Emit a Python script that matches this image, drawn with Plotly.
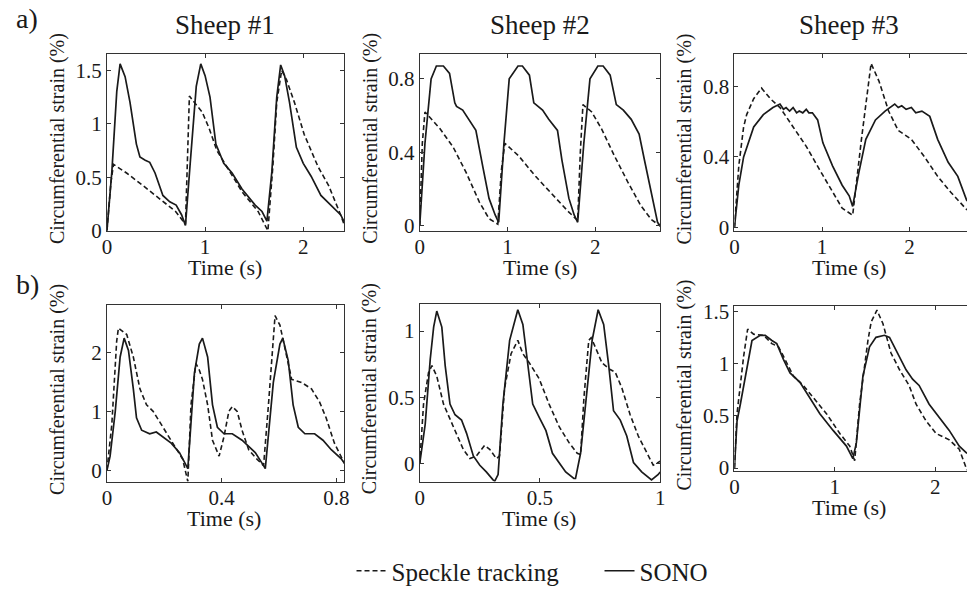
import plotly.graph_objects as go

# ---------------- data ----------------
a1_t_sono = [0, 0.05, 0.10, 0.134, 0.185, 0.235, 0.30, 0.336, 0.39, 0.436, 0.49, 0.57, 0.64, 0.705, 0.76, 0.80,
             0.85, 0.91, 0.956, 1.0, 1.05, 1.11, 1.19, 1.275, 1.376, 1.51, 1.58, 1.63,
             1.68, 1.73, 1.77, 1.81, 1.86, 1.93, 2.0, 2.08, 2.18, 2.28, 2.38, 2.42]
a1_sono = [0, 0.55, 1.30, 1.56, 1.44, 1.20, 0.81, 0.69, 0.66, 0.64, 0.54, 0.33, 0.27, 0.24, 0.15, 0.05,
           0.65, 1.35, 1.56, 1.45, 1.25, 0.81, 0.63, 0.54, 0.39, 0.24, 0.18, 0.09,
           0.55, 1.25, 1.55, 1.45, 1.20, 0.78, 0.63, 0.51, 0.33, 0.24, 0.15, 0.08]
a1_t_speckle = [0, 0.04, 0.067, 0.2, 0.37, 0.54, 0.70, 0.80, 0.84, 0.89, 0.97, 1.04, 1.12, 1.24, 1.38, 1.54, 1.64,
                1.69, 1.73, 1.78, 1.83, 1.91, 2.01, 2.15, 2.26, 2.38, 2.42]
a1_speckle = [0, 0.45, 0.62, 0.54, 0.42, 0.30, 0.18, 0.06, 1.26, 1.20, 1.11, 0.96, 0.75, 0.57, 0.36, 0.18, 0.0,
              0.6, 1.2, 1.5, 1.41, 1.20, 0.90, 0.60, 0.42, 0.15, 0.05]

a2_t_sono = [0, 0.06, 0.13, 0.19, 0.27, 0.34, 0.40, 0.42, 0.49, 0.57, 0.64, 0.72, 0.79, 0.86, 0.90,
             0.96, 1.02, 1.12, 1.17, 1.25, 1.30, 1.40, 1.47, 1.57, 1.62, 1.70, 1.76, 1.80,
             1.87, 1.94, 2.03, 2.09, 2.17, 2.24, 2.32, 2.41, 2.50, 2.56, 2.64, 2.71, 2.74]
a2_sono = [0, 0.45, 0.80, 0.87, 0.87, 0.83, 0.67, 0.65, 0.63, 0.57, 0.52, 0.32, 0.15, 0.06, 0.02,
           0.45, 0.80, 0.87, 0.87, 0.82, 0.67, 0.63, 0.58, 0.52, 0.36, 0.15, 0.06, 0.02,
           0.45, 0.80, 0.87, 0.87, 0.82, 0.66, 0.63, 0.58, 0.50, 0.36, 0.17, 0.02, 0.0]
a2_t_speckle = [0, 0.03, 0.06, 0.10, 0.23, 0.38, 0.53, 0.68, 0.79, 0.89, 0.93, 0.97, 1.13, 1.32, 1.51, 1.69, 1.80,
                1.83, 1.86, 1.96, 2.07, 2.22, 2.37, 2.52, 2.64, 2.71, 2.74]
a2_speckle = [0, 0.45, 0.62, 0.60, 0.53, 0.43, 0.29, 0.13, 0.04, 0.01, 0.30, 0.45, 0.38, 0.27, 0.17, 0.08, 0.03,
              0.40, 0.66, 0.62, 0.53, 0.38, 0.24, 0.11, 0.035, 0.01, 0.0]

a3_t_sono = [0, 0.05, 0.105, 0.22, 0.33, 0.44, 0.52, 0.56, 0.59, 0.63, 0.67, 0.71, 0.74, 0.78, 0.82, 0.85, 0.89,
             0.95, 1.01, 1.12, 1.23, 1.31, 1.35, 1.42, 1.50, 1.61, 1.72, 1.83, 1.87, 1.91, 1.96, 2.02, 2.07,
             2.14, 2.23, 2.32, 2.44, 2.55, 2.655]
a3_sono = [0, 0.24, 0.40, 0.57, 0.64, 0.68, 0.70, 0.67, 0.68, 0.66, 0.68, 0.65, 0.66, 0.65, 0.67, 0.65, 0.65,
           0.61, 0.48, 0.35, 0.24, 0.18, 0.12, 0.31, 0.50, 0.61, 0.66, 0.70, 0.68, 0.69, 0.67, 0.68, 0.65,
           0.66, 0.63, 0.50, 0.37, 0.29, 0.15]
a3_t_speckle = [0, 0.05, 0.105, 0.14, 0.22, 0.31, 0.41, 0.52, 0.67, 0.82, 0.97, 1.12, 1.23, 1.35, 1.45, 1.56,
                1.65, 1.76, 1.87, 2.02, 2.17, 2.32, 2.47, 2.655]
a3_speckle = [0, 0.35, 0.57, 0.64, 0.73, 0.79, 0.73, 0.68, 0.57, 0.46, 0.33, 0.20, 0.11, 0.07, 0.50, 0.93,
              0.83, 0.66, 0.55, 0.50, 0.40, 0.29, 0.20, 0.10]

b1_t_sono = [0, 0.011, 0.029, 0.046, 0.06, 0.075, 0.092, 0.103, 0.121, 0.149, 0.172, 0.195, 0.224, 0.253, 0.276,
             0.282, 0.305, 0.322, 0.333, 0.351, 0.368, 0.385, 0.408, 0.437, 0.471, 0.517, 0.546, 0.552, 0.58,
             0.603, 0.613, 0.632, 0.649, 0.667, 0.69, 0.724, 0.753, 0.782, 0.816, 0.828]
b1_sono = [0, 0.24, 1.0, 1.92, 2.24, 2.03, 1.38, 0.89, 0.68, 0.62, 0.65, 0.57, 0.46, 0.30, 0.08,
           0.03, 1.65, 2.14, 2.24, 1.92, 1.11, 0.73, 0.62, 0.62, 0.51, 0.30, 0.08, 0.03, 1.49,
           2.14, 2.24, 1.86, 1.11, 0.73, 0.62, 0.62, 0.51, 0.35, 0.20, 0.12]
b1_t_speckle = [0, 0.017, 0.034, 0.04, 0.069, 0.092, 0.115, 0.138, 0.161, 0.195, 0.23, 0.264, 0.282, 0.293,
                0.31, 0.322, 0.333, 0.351, 0.368, 0.391, 0.408, 0.425, 0.437, 0.454, 0.471, 0.494, 0.523,
                0.546, 0.563, 0.58, 0.586, 0.603, 0.621, 0.644, 0.678, 0.713, 0.741, 0.764, 0.793, 0.816, 0.828]
b1_speckle = [0, 0.78, 2.19, 2.41, 2.30, 1.92, 1.38, 1.11, 1.0, 0.73, 0.46, 0.19, -0.19, 1.11,
              1.81, 1.70, 1.54, 1.11, 0.51, 0.24, 0.57, 1.0, 1.08, 1.0, 0.68, 0.35, 0.19,
              0.08, 1.11, 2.30, 2.62, 2.46, 2.03, 1.54, 1.49, 1.38, 1.16, 0.89, 0.46, 0.24, 0.12]

b2_t_sono = [0, 0.023, 0.044, 0.058, 0.071, 0.092, 0.106, 0.126, 0.147, 0.174, 0.195, 0.223, 0.25, 0.277, 0.305,
             0.312, 0.326, 0.346, 0.374, 0.408, 0.429, 0.449, 0.47, 0.497, 0.525, 0.552, 0.58, 0.607, 0.641,
             0.648, 0.669, 0.69, 0.717, 0.742, 0.765, 0.786, 0.806, 0.834, 0.861, 0.889, 0.923, 0.964, 0.992, 1.0]
b2_sono = [0, 0.30, 0.79, 1.03, 1.15, 1.03, 0.74, 0.45, 0.37, 0.33, 0.23, 0.06, -0.01, -0.06, -0.12,
           -0.13, -0.08, 0.45, 0.93, 1.16, 1.05, 0.74, 0.45, 0.35, 0.25, 0.08, 0.01, -0.06, -0.11,
           -0.11, 0.08, 0.45, 0.93, 1.16, 1.05, 0.74, 0.40, 0.33, 0.21, 0.01, -0.06, -0.12, -0.08, -0.06]
b2_t_speckle = [0, 0.016, 0.037, 0.051, 0.071, 0.099, 0.14, 0.181, 0.209, 0.236, 0.27, 0.291, 0.319, 0.332,
                0.353, 0.38, 0.408, 0.429, 0.456, 0.497, 0.538, 0.58, 0.621, 0.655, 0.669, 0.683, 0.703,
                0.713, 0.73, 0.758, 0.792, 0.813, 0.841, 0.875, 0.909, 0.944, 0.971, 1.0]
b2_speckle = [0, 0.45, 0.69, 0.74, 0.66, 0.45, 0.28, 0.11, 0.04, 0.06, 0.14, 0.11, 0.04, 0.06,
              0.57, 0.83, 0.93, 0.83, 0.76, 0.64, 0.45, 0.28, 0.16, 0.08, 0.07, 0.50, 0.93,
              0.95, 0.88, 0.76, 0.71, 0.69, 0.57, 0.37, 0.21, 0.08, -0.01, 0.02]

b3_t_sono = [0, 0.026, 0.059, 0.125, 0.175, 0.257, 0.307, 0.373, 0.422, 0.488, 0.554, 0.653, 0.752, 0.851, 0.983,
             1.116, 1.18, 1.215, 1.28, 1.346, 1.41, 1.495, 1.545, 1.61, 1.71, 1.775, 1.84, 1.94, 2.04, 2.14,
             2.24, 2.317]
b3_sono = [0, 0.45, 0.61, 0.98, 1.22, 1.27, 1.27, 1.22, 1.19, 1.04, 0.91, 0.82, 0.67, 0.52, 0.36,
           0.21, 0.09, 0.24, 0.88, 1.16, 1.25, 1.27, 1.25, 1.13, 0.94, 0.85, 0.79, 0.61, 0.48, 0.36,
           0.21, 0.14]
b3_t_speckle = [0, 0.026, 0.092, 0.132, 0.191, 0.29, 0.373, 0.439, 0.488, 0.587, 0.686, 0.785, 0.917, 1.05,
                1.149, 1.198, 1.247, 1.33, 1.363, 1.42, 1.48, 1.56, 1.645, 1.74, 1.81, 1.91, 2.01, 2.14,
                2.24, 2.317]
b3_speckle = [0, 0.52, 1.07, 1.33, 1.28, 1.27, 1.19, 1.16, 1.07, 0.88, 0.79, 0.67, 0.52, 0.33,
              0.21, 0.07, 0.61, 1.22, 1.40, 1.51, 1.38, 1.10, 0.94, 0.79, 0.61, 0.45, 0.33, 0.27,
              0.18, -0.02]

sheep_titles = ["Sheep #1", "Sheep #2", "Sheep #3"]
row_labels = ["a)", "b)"]
series_names = ["Speckle tracking", "SONO"]

x_ticks = {"a1": [0, 1, 2], "a2": [0, 1, 2], "a3": [0, 1, 2],
           "b1": [0, 0.4, 0.8], "b2": [0, 0.5, 1], "b3": [0, 1, 2]}
y_ticks = {"a1": [0, 0.5, 1, 1.5], "a2": [0, 0.4, 0.8], "a3": [0, 0.4, 0.8],
           "b1": [0, 1, 2], "b2": [0, 0.5, 1], "b3": [0, 0.5, 1, 1.5]}
x_ranges = {"a1": [0, 2.42], "a2": [0, 2.74], "a3": [0, 2.655],
            "b1": [0, 0.828], "b2": [0, 1.0], "b3": [0, 2.317]}
y_ranges = {"a1": [0, 1.65], "a2": [-0.026, 0.934], "a3": [-0.018, 0.982],
            "b1": [-0.19, 2.8], "b2": [-0.133, 1.203], "b3": [-0.028, 1.55]}

panels = {
    "a1": (a1_t_speckle, a1_speckle, a1_t_sono, a1_sono),
    "a2": (a2_t_speckle, a2_speckle, a2_t_sono, a2_sono),
    "a3": (a3_t_speckle, a3_speckle, a3_t_sono, a3_sono),
    "b1": (b1_t_speckle, b1_speckle, b1_t_sono, b1_sono),
    "b2": (b2_t_speckle, b2_speckle, b2_t_sono, b2_sono),
    "b3": (b3_t_speckle, b3_speckle, b3_t_sono, b3_sono),
}

# ---------------- layout (pixel boxes) ----------------
W, H = 972, 594
boxes = {  # left, right, top, bottom (px)
    "a1": (103, 343, 50, 233), "a2": (419, 662, 50, 233), "a3": (737, 972, 50, 233),
    "b1": (103, 343, 310, 493), "b2": (419, 662, 309, 493), "b3": (737, 972, 311, 482),
}
title_cx = {"a1": 222, "a2": 541, "a3": 853, "b1": 221, "b2": 540, "b3": 853}

FONT = "Liberation Serif"
INK = "#1a1a1a"

fig = go.Figure()
layout = dict(
    width=W, height=H, margin=dict(l=0, r=0, t=0, b=0),
    paper_bgcolor="white", plot_bgcolor="white",
    font=dict(family=FONT, color=INK, size=20),
    showlegend=True,
    legend=dict(orientation="h", x=0.618, xanchor="center", y=1 - 586 / H, yanchor="middle",
                font=dict(family=FONT, size=25, color=INK), bgcolor="rgba(0,0,0,0)",
                itemwidth=30, tracegroupgap=0, entrywidth=203),
)
annotations = []

for i, key in enumerate(["a1", "a2", "a3", "b1", "b2", "b3"]):
    n = i + 1
    xa = "x" if n == 1 else f"x{n}"
    ya = "y" if n == 1 else f"y{n}"
    l, r, t, b = boxes[key]
    ts, ss, tn, sn = panels[key]
    fig.add_trace(go.Scatter(x=ts, y=ss, mode="lines", name=series_names[0], xaxis=xa, yaxis=ya,
                             line=dict(color=INK, width=1.6, dash="5px,3px"),
                             showlegend=(n == 1), legendrank=1))
    fig.add_trace(go.Scatter(x=tn, y=sn, mode="lines", name=series_names[1], xaxis=xa, yaxis=ya,
                             line=dict(color=INK, width=1.7),
                             showlegend=(n == 1), legendrank=2))
    axis_common = dict(showline=True, linecolor="#333", linewidth=1, ticks="inside",
                       ticklen=4, tickcolor="#333", showgrid=False, zeroline=False,
                       tickfont=dict(family=FONT, size=21, color=INK))
    cut_right = r >= W
    layout["xaxis" if n == 1 else f"xaxis{n}"] = dict(
        domain=[l / W, r / W], range=x_ranges[key], tickvals=x_ticks[key], anchor=ya,
        mirror="ticks", ticklabelstandoff=-3, **axis_common)
    layout["yaxis" if n == 1 else f"yaxis{n}"] = dict(
        domain=[1 - b / H, 1 - t / H], range=y_ranges[key], tickvals=y_ticks[key], anchor=xa,
        mirror=(False if cut_right else "ticks"), ticklabelstandoff=0, **axis_common)
    # axis titles
    annotations.append(dict(text="Time (s)", x=title_cx[key] / W, y=1 - (b + 38) / H, xref="paper", yref="paper",
                            showarrow=False, xanchor="center", yanchor="middle",
                            font=dict(family=FONT, size=22, color=INK)))
    annotations.append(dict(text="Circumferential strain (%)", x=(l - 50) / W, y=1 - ((t + b) / 2 - 4) / H,
                            xref="paper", yref="paper", showarrow=False, textangle=-90,
                            xanchor="center", yanchor="middle",
                            font=dict(family=FONT, size=20, color=INK)))
    if key.startswith("a"):
        annotations.append(dict(text=sheep_titles[i], x=title_cx[key] / W, y=1 - 20 / H, xref="paper",
                                yref="paper", showarrow=False, xanchor="center", yanchor="middle",
                                font=dict(family=FONT, size=27, color=INK)))

annotations.append(dict(text=row_labels[0], x=9 / W, y=1 - 13 / H, xref="paper", yref="paper", showarrow=False,
                        xanchor="left", yanchor="middle", font=dict(family=FONT, size=28, color=INK)))
annotations.append(dict(text=row_labels[1], x=9 / W, y=1 - 289 / H, xref="paper", yref="paper", showarrow=False,
                        xanchor="left", yanchor="middle", font=dict(family=FONT, size=28, color=INK)))

layout["annotations"] = annotations
fig.update_layout(**layout)
fig.write_html("out.html", config={"displayModeBar": False},
               post_script="document.body.style.margin='0';document.body.style.overflow='hidden';")
